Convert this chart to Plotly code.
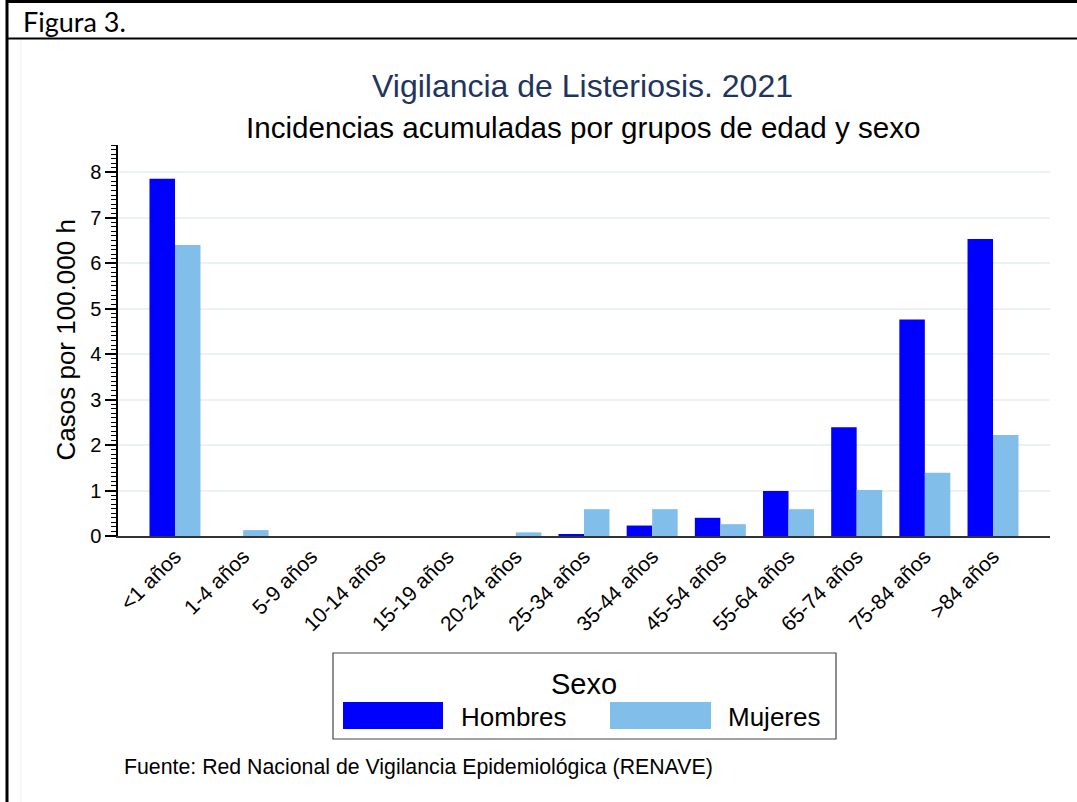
import plotly.graph_objects as go

# ---- data ----
categories = ["<1 años", "1-4 años", "5-9 años", "10-14 años", "15-19 años", "20-24 años",
              "25-34 años", "35-44 años", "45-54 años", "55-64 años", "65-74 años",
              "75-84 años", ">84 años"]
hombres = [7.86, 0, 0, 0, 0, 0, 0.04, 0.23, 0.40, 0.99, 2.39, 4.76, 6.53]
mujeres = [6.40, 0.13, 0, 0, 0, 0.08, 0.59, 0.59, 0.26, 0.59, 1.01, 1.39, 2.22]
y_ticks = [0, 1, 2, 3, 4, 5, 6, 7, 8]

title_text = "Vigilancia de Listeriosis. 2021"
subtitle_text = "Incidencias acumuladas por grupos de edad y sexo"
ytitle_text = "Casos por 100.000 h"
legend_title = "Sexo"
source_text = "Fuente: Red Nacional de Vigilancia Epidemiológica (RENAVE)"
header_text = "Figura 3."

C_H = "#0000FF"
C_M = "#82BEEA"
FONT = "Liberation Sans, Arial, sans-serif"

W, H = 1077, 802
L, R, T, B = 118, 1050, 145, 536  # plot area in pixels


def px(x):
    return (x - L) / (R - L)


def py(y):
    return (B - y) / (B - T)


fig = go.Figure()
fig.add_trace(go.Bar(x=categories, y=hombres, name="Hombres", marker_color=C_H,
                     marker_line_width=0, showlegend=False))
fig.add_trace(go.Bar(x=categories, y=mujeres, name="Mujeres", marker_color=C_M,
                     marker_line_width=0, showlegend=False))

shapes = []
# table frame
shapes.append(dict(type="line", xref="paper", yref="paper", x0=px(7), x1=px(W + 5),
                   y0=py(1.5), y1=py(1.5), line=dict(color="black", width=3)))
shapes.append(dict(type="line", xref="paper", yref="paper", x0=px(7), x1=px(W + 5),
                   y0=py(38.5), y1=py(38.5), line=dict(color="black", width=2)))
shapes.append(dict(type="line", xref="paper", yref="paper", x0=px(7), x1=px(7),
                   y0=py(0), y1=py(H + 5), line=dict(color="black", width=3)))
shapes.append(dict(type="line", xref="paper", yref="paper", x0=px(21), x1=px(21),
                   y0=py(40), y1=py(H + 5), line=dict(color="#eeeeee", width=1)))
# legend box
shapes.append(dict(type="rect", xref="paper", yref="paper", x0=px(333), x1=px(836),
                   y0=py(653), y1=py(739), line=dict(color="#444444", width=1.2),
                   fillcolor="white"))
shapes.append(dict(type="rect", xref="paper", yref="paper", x0=px(343), x1=px(443),
                   y0=py(702), y1=py(729), line=dict(width=0), fillcolor=C_H))
shapes.append(dict(type="rect", xref="paper", yref="paper", x0=px(610), x1=px(711),
                   y0=py(702), y1=py(729), line=dict(width=0), fillcolor=C_M))

annotations = [
    dict(text=header_text, x=px(21), y=py(21), xanchor="left", yanchor="middle",
         font=dict(family="Lato, Open Sans, sans-serif", size=27, color="black")),
    dict(text=title_text, x=px(582.5), y=py(86), xanchor="center", yanchor="middle",
         font=dict(family=FONT, size=32, color="#1F355E")),
    dict(text=subtitle_text, x=px(583.5), y=py(127), xanchor="center", yanchor="middle",
         font=dict(family=FONT, size=29.6, color="black")),
    dict(text=ytitle_text, x=px(65), y=0.5, xanchor="center", yanchor="middle",
         textangle=-90, font=dict(family=FONT, size=26, color="black")),
    dict(text=legend_title, x=px(584), y=py(684), xanchor="center", yanchor="middle",
         font=dict(family=FONT, size=29, color="black")),
    dict(text="Hombres", x=px(459), y=py(717), xanchor="left", yanchor="middle",
         font=dict(family=FONT, size=26, color="black")),
    dict(text="Mujeres", x=px(726), y=py(717), xanchor="left", yanchor="middle",
         font=dict(family=FONT, size=26, color="black")),
    dict(text=source_text, x=px(122), y=py(767), xanchor="left", yanchor="middle",
         font=dict(family=FONT, size=21.3, color="black")),
]
for a in annotations:
    a.update(xref="paper", yref="paper", showarrow=False)

fig.update_layout(
    width=W, height=H,
    margin=dict(l=L, r=W - R, t=T, b=H - B, pad=0),
    paper_bgcolor="white", plot_bgcolor="white",
    barmode="group", bargap=0.252, bargroupgap=0,
    font=dict(family=FONT, color="black"),
    shapes=shapes, annotations=annotations,
    showlegend=False,
)
fig.update_xaxes(
    type="category", range=[-0.836, 12.836],
    showline=True, linecolor="#333333", linewidth=2,
    ticks="", tickangle=-45, tickfont=dict(family=FONT, size=21, color="black"),
    ticklabelstandoff=-2,
    showgrid=False, zeroline=False, fixedrange=True,
)
fig.update_yaxes(
    range=[0, 8.6], tickvals=y_ticks, ticktext=[str(v) for v in y_ticks],
    showline=True, linecolor="black", linewidth=1.5,
    ticks="outside", ticklen=11, tickwidth=1.5, tickcolor="black",
    tickfont=dict(family=FONT, size=20, color="black"),
    showgrid=True, gridcolor="#EAF2F3", gridwidth=2, zeroline=False,
    minor=dict(dtick=0.1, tick0=0, ticks="outside", ticklen=5, tickwidth=1,
               tickcolor="black", showgrid=False),
    fixedrange=True,
)

fig.write_html("out.html",
               config={"displayModeBar": False},
               post_script="document.body.style.margin='0';document.body.style.padding='0';")
